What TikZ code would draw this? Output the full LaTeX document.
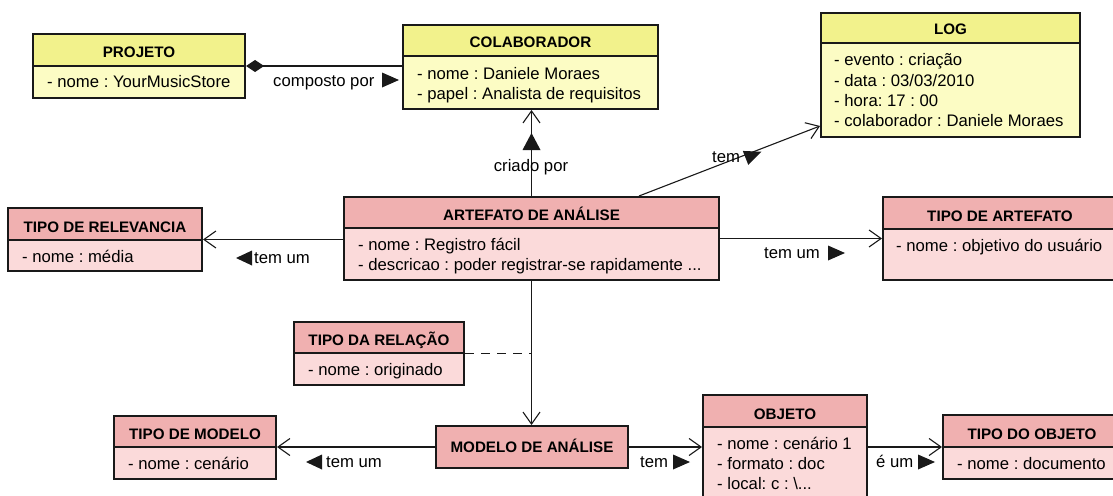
\documentclass[tikz,border=0pt]{standalone}
\usepackage{fontspec}
\setmainfont{Liberation Sans}
\usetikzlibrary{arrows.meta,fit}
\definecolor{yhead}{RGB}{242,242,140}
\definecolor{ybody}{RGB}{252,252,196}
\definecolor{phead}{RGB}{240,176,176}
\definecolor{pbody}{RGB}{251,218,218}
\definecolor{ink}{RGB}{25,25,25}
\frenchspacing
\tikzset{
  classframe/.style={draw=ink, line width=2pt, inner sep=0pt},
  hdr/.style={font=\fontsize{15.2}{18}\selectfont\bfseries\frenchspacing, anchor=base, inner sep=0pt},
  attr/.style={font=\fontsize{16.7}{20}\selectfont\frenchspacing, anchor=base west, inner sep=0pt},
  lbl/.style={font=\fontsize{16.7}{20}\selectfont\frenchspacing, anchor=base west, inner sep=0pt},
  conn/.style={draw=ink, line width=1.1pt},
  openarrow/.style={-{Straight Barb[length=12pt,width=17pt,line width=1.1pt]}},
  dirtri/.style={fill=ink},
}
% #1 name, #2 x1, #3 y1, #4 x2, #5 y2, #6 ydiv, #7 colour prefix
\newcommand\umlclass[7]{%
  \fill[#7head] (#2,#3) rectangle (#4,#6);
  \fill[#7body] (#2,#6) rectangle (#4,#5);
  \draw[ink, line width=1.5pt] (#2,#6) -- (#4,#6);
  \node[classframe, fit={(#2,#3) (#4,#5)}] (#1) {};
}
\newcommand\trir[2]{\fill[dirtri] (#1,#2-7.5) -- (#1+17,#2) -- (#1,#2+7.5) -- cycle;}
\newcommand\tril[2]{\fill[dirtri] (#1+16,#2-7.5) -- (#1,#2) -- (#1+16,#2+7.5) -- cycle;}
\begin{document}
\begin{tikzpicture}[x=1pt,y=-1pt]
\clip (0,0) rectangle (1113,495);
\fill[white] (0,0) rectangle (1113,495);

% classes
\umlclass{proj}{33}{34}{245}{98}{66}{y}
\node[hdr] (projh) at (139,58) {PROJETO};
\node[attr] (proja) at (47,87) {- nome : YourMusicStore};

\umlclass{colab}{403}{25}{658}{109}{56}{y}
\node[hdr] (colabh) at (530.5,48) {COLABORADOR};
\node[attr] (colaba) at (417,79) {- nome : Daniele Moraes};
\node[attr] (colabb) at (417,99) {- papel : Analista de requisitos};

\umlclass{log}{821}{13}{1080}{137}{43}{y}
\node[hdr] (logh) at (950.5,35) {LOG};
\node[attr] (loga) at (834,66) {- evento : criação};
\node[attr] (logb) at (834,86) {- data : 03/03/2010};
\node[attr] (logc) at (834,106) {- hora: 17 : 00};
\node[attr] (logd) at (834,126) {- colaborador : Daniele Moraes};

\umlclass{rel}{8}{208}{202}{271}{240}{p}
\node[hdr] (relh) at (105,232) {TIPO DE RELEVANCIA};
\node[attr] (rela) at (22,262) {- nome : média};

\umlclass{art}{344}{197}{719}{280}{228}{p}
\node[hdr] (arth) at (531.5,220) {ARTEFATO DE ANÁLISE};
\node[attr] (arta) at (358,250) {- nome : Registro fácil};
\node[attr] (artb) at (358,270) {- descricao : poder registrar-se rapidamente ...};

\umlclass{tart}{883}{197}{1117}{280}{229}{p}
\node[hdr] (tarth) at (1000,221) {TIPO DE ARTEFATO};
\node[attr] (tarta) at (896,251) {- nome : objetivo do usuário};

\umlclass{trel}{294}{322}{464}{385}{353}{p}
\node[hdr] (trelh) at (379,345) {TIPO DA RELAÇÃO};
\node[attr] (trela) at (308,375) {- nome : originado};

\umlclass{tmod}{114}{416}{276}{479}{447}{p}
\node[hdr] (tmodh) at (195,439) {TIPO DE MODELO};
\node[attr] (tmoda) at (128,469) {- nome : cenário};

\fill[phead] (436,426) rectangle (628,468);
\node[classframe, fit={(436,426) (628,468)}] (mod) {};
\node[hdr] (modh) at (532,452) {MODELO DE ANÁLISE};

\umlclass{obj}{703}{395}{867}{515}{427}{p}
\node[hdr] (objh) at (785,419) {OBJETO};
\node[attr] (obja) at (717,449) {- nome : cenário 1};
\node[attr] (objb) at (717,469) {- formato : doc};
\node[attr] (objc) at (717,489) {- local: c : \textbackslash...};

\umlclass{tobj}{943}{415}{1121}{479}{447}{p}
\node[hdr] (tobjh) at (1032,439) {TIPO DO OBJETO};
\node[attr] (tobja) at (957,469) {- nome : documento};

% connectors
\draw[conn, {Diamond[length=18pt,width=12pt]}-] (proj.east) -- (proj.east -| colab.west);
\draw[conn, openarrow] (art.north) -- (art.north |- colab.south);
\draw[conn, openarrow] ([xshift=296pt]art.north west) -- ([yshift=-51pt]log.west);
\draw[conn, openarrow] (rel.east -| art.west) -- (rel.east);
\draw[conn, openarrow] (art.east) -- (art.east -| tart.west);
\draw[conn, openarrow] (art.south) -- (art.south |- mod.north);
\draw[conn, dash pattern=on 9pt off 7pt] (trel.east) -- (trel.east -| art.south);
\draw[conn, openarrow] (mod.west) -- (mod.west -| tmod.east);
\draw[conn, openarrow] (mod.east) -- (mod.east -| obj.west);
\draw[conn, openarrow] (tobj.west -| obj.east) -- (tobj.west);

% labels
\node[lbl] (l1) at (273,86) {composto por};
\trir{382}{80}
\node[lbl, anchor=base] (l2) at (531,171) {criado por};
\fill[dirtri] (522.5,150) -- (540.5,150) -- (531.5,133) -- cycle;
\node[lbl] (l3) at (712,162) {tem};
\fill[dirtri, rotate around={21.4:(753,155)}] (745,147.5) -- (762,155) -- (745,162.5) -- cycle;
\node[lbl] (l4) at (254,263) {tem um};
\tril{236}{258}
\node[lbl] (l5) at (764,258) {tem um};
\trir{828}{253}
\node[lbl] (l6) at (326,467) {tem um};
\tril{306}{462}
\node[lbl] (l7) at (640,467) {tem};
\trir{673}{462}
\node[lbl] (l8) at (876,467) {é um};
\trir{918}{462}
\end{tikzpicture}
\end{document}
